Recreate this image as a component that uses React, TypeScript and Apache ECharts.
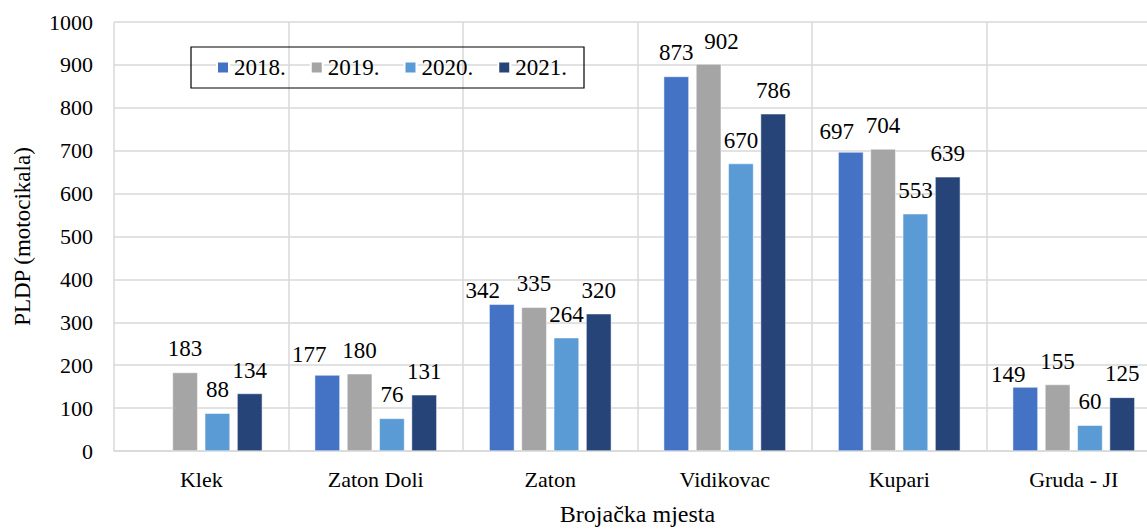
import React, { useEffect, useRef } from "react";
import * as echarts from "echarts";

const categories = ["Klek", "Zaton Doli", "Zaton", "Vidikovac", "Kupari", "Gruda - JI"];
const seriesNames = ["2018.", "2019.", "2020.", "2021."];
const values2018: (number | null)[] = [null, 177, 342, 873, 697, 149];
const values2019 = [183, 180, 335, 902, 704, 155];
const values2020 = [88, 76, 264, 670, 553, 60];
const values2021 = [134, 131, 320, 786, 639, 125];
const colors = ["#4472C4", "#A5A5A5", "#5B9BD5", "#264478"];

const FONT = "Times New Roman, Liberation Serif, DejaVu Serif, serif";

// label nudges (series index - category index) imitating the reference's label placement
const labelNudges: Record<string, [number, number]> = {
  "0-1": [-18, 3],
  "0-2": [-19, 10],
  "0-4": [-14, 3],
  "0-5": [-17, 11],
  "1-3": [13, 1],
};

export default function App() {
  const ref = useRef<HTMLDivElement>(null);
  useEffect(() => {
    if (!ref.current) return;
    const chart = echarts.init(ref.current, null, { renderer: "svg" });
    const data = [values2018, values2019, values2020, values2021];
    chart.setOption({
      animation: false,
      textStyle: { fontFamily: FONT },
      grid: { left: 114, right: 14, top: 22, bottom: 78 },
      legend: {
        left: 191,
        top: 47,
        borderColor: "#000",
        borderWidth: 1.2,
        padding: [9, 17, 9, 25],
        itemWidth: 12,
        itemHeight: 12,
        itemGap: 24,
        icon: "rect",
        textStyle: { fontFamily: FONT, fontSize: 23, color: "#000" },
        data: seriesNames,
      },
      xAxis: {
        type: "category",
        data: categories,
        name: "Brojačka mjesta",
        nameLocation: "middle",
        nameGap: 51,
        nameTextStyle: { fontFamily: FONT, fontSize: 24, color: "#000" },
        axisLine: { lineStyle: { color: "#d9d9d9", width: 1.5 } },
        axisTick: { show: false },
        axisLabel: { fontFamily: FONT, fontSize: 22, color: "#000", margin: 17 },
        splitLine: { show: true, lineStyle: { color: "#d9d9d9", width: 1.5 } },
      },
      yAxis: {
        type: "value",
        min: 0,
        max: 1000,
        interval: 100,
        name: "PLDP (motocikala)",
        nameLocation: "middle",
        nameGap: 80,
        nameTextStyle: { fontFamily: FONT, fontSize: 23, color: "#000" },
        axisLine: { show: false },
        axisTick: { show: false },
        axisLabel: {
          fontFamily: FONT,
          fontSize: 22,
          color: "#000",
          margin: 21,
          formatter: (v: number) => String(v),
        },
        splitLine: { lineStyle: { color: "#d9d9d9", width: 1.5 } },
      },
      series: seriesNames.map((name, i) => ({
        name,
        type: "bar",
        data: data[i].map((v, j) => {
          const n = labelNudges[`${i}-${j}`];
          return n ? { value: v, label: { offset: n } } : v;
        }),
        barGap: "28%",
        barCategoryGap: "30%",
        itemStyle: { color: colors[i], borderColor: "#ffffff", borderWidth: 0.5 },
        label: {
          show: true,
          position: "top",
          distance: 12,
          fontFamily: FONT,
          fontSize: 23,
          color: "#000",
        },
      })),
    });
    return () => chart.dispose();
  }, []);
  return (
    <div style={{ position: "absolute", left: 0, top: 0, width: 1147, height: 531, overflow: "hidden", background: "#fff" }}>
      <div ref={ref} style={{ width: 1175, height: 531 }} />
    </div>
  );
}
